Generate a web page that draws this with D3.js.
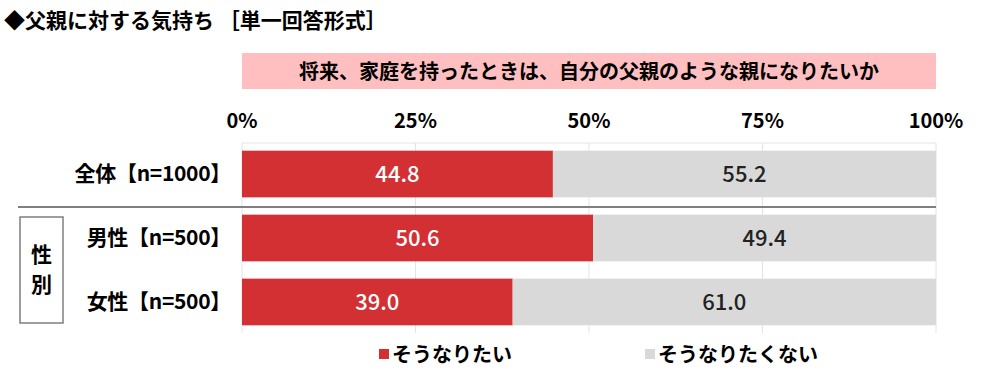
<!DOCTYPE html>
<html>
<head>
<meta charset="utf-8">
<script src="https://cdnjs.cloudflare.com/ajax/libs/d3/7.8.5/d3.min.js"></script>
<style>
  body { margin: 0; background: #fff; }
  svg { font-family: "Noto Sans CJK JP", "Noto Sans", sans-serif; }
</style>
</head>
<body>
<script>
const categories = ['全体【n=1000】', '男性【n=500】', '女性【n=500】'];
const yesValues = [44.8, 50.6, 39.0];
const noValues = [55.2, 49.4, 61.0];
const seriesNames = ['そうなりたい', 'そうなりたくない'];
const tickValues = [0, 25, 50, 75, 100];

const width = 1000, height = 375;
const red = '#d33034', grey = '#d9d9d9';

const svg = d3.select('body').append('svg')
  .attr('width', width).attr('height', height);

const x = d3.scaleLinear().domain([0, 100]).range([242, 936]);
const y = d3.scaleBand().domain(categories)
  .range([143, 333]).paddingInner(0.27).paddingOuter(0.12);

// title
svg.append('text')
  .attr('x', 4).attr('y', 28)
  .attr('font-size', 21).attr('font-weight', 'bold')
  .text('◆父親に対する気持ち ［単一回答形式］');

// question banner
svg.append('rect')
  .attr('x', x(0)).attr('y', 53)
  .attr('width', x(100) - x(0)).attr('height', 36)
  .attr('fill', '#ffbfc1');
svg.append('text')
  .attr('x', (x(0) + x(100)) / 2).attr('y', 79)
  .attr('text-anchor', 'middle')
  .attr('font-size', 20).attr('font-weight', 'bold')
  .text('将来、家庭を持ったときは、自分の父親のような親になりたいか');

// grid
svg.append('line')
  .attr('x1', x(0)).attr('x2', x(100)).attr('y1', 143).attr('y2', 143)
  .attr('stroke', '#e4e4e4');
svg.selectAll('.grid').data(tickValues).enter().append('line')
  .attr('x1', d => x(d)).attr('x2', d => x(d))
  .attr('y1', 143).attr('y2', 333)
  .attr('stroke', '#e4e4e4');

// tick labels
svg.selectAll('.tick').data(tickValues).enter().append('text')
  .attr('x', d => x(d)).attr('y', 128)
  .attr('text-anchor', 'middle')
  .attr('font-size', 20).attr('font-weight', 'bold')
  .text(d => d + '%');

// bars
const rows = categories.map((c, i) => ({ cat: c, yes: yesValues[i], no: noValues[i] }));

svg.selectAll('.yes').data(rows).enter().append('rect')
  .attr('x', x(0)).attr('y', d => y(d.cat))
  .attr('width', d => x(d.yes) - x(0)).attr('height', y.bandwidth())
  .attr('fill', red);
svg.selectAll('.no').data(rows).enter().append('rect')
  .attr('x', d => x(d.yes)).attr('y', d => y(d.cat))
  .attr('width', d => x(d.yes + d.no) - x(d.yes)).attr('height', y.bandwidth())
  .attr('fill', grey);

svg.selectAll('.yesLabel').data(rows).enter().append('text')
  .attr('x', d => (x(0) + x(d.yes)) / 2).attr('y', d => y(d.cat) + y.bandwidth() / 2 + 8)
  .attr('text-anchor', 'middle').attr('font-size', 22).attr('font-weight', 500).attr('fill', '#fff')
  .text(d => d.yes.toFixed(1));
svg.selectAll('.noLabel').data(rows).enter().append('text')
  .attr('x', d => (x(d.yes) + x(d.yes + d.no)) / 2).attr('y', d => y(d.cat) + y.bandwidth() / 2 + 8)
  .attr('text-anchor', 'middle').attr('font-size', 22).attr('font-weight', 500).attr('fill', '#222')
  .text(d => d.no.toFixed(1));

// category labels
svg.selectAll('.cat').data(categories).enter().append('text')
  .attr('x', 231).attr('y', d => y(d) + y.bandwidth() / 2 + 7)
  .attr('text-anchor', 'end')
  .attr('font-size', 21).attr('font-weight', 'bold')
  .attr('letter-spacing', -0.3)
  .text(d => d);

// separator
svg.append('line')
  .attr('x1', 18).attr('x2', x(100)).attr('y1', 207).attr('y2', 207)
  .attr('stroke', '#7f7f7f').attr('stroke-width', 2);

// group box
svg.append('rect')
  .attr('x', 20).attr('y', 217).attr('width', 43).attr('height', 106)
  .attr('fill', 'none').attr('stroke', '#7f7f7f').attr('stroke-width', 1.5);
svg.append('text')
  .attr('x', 41.5).attr('y', 262).attr('text-anchor', 'middle')
  .attr('font-size', 21).attr('font-weight', 'bold').text('性');
svg.append('text')
  .attr('x', 41.5).attr('y', 292).attr('text-anchor', 'middle')
  .attr('font-size', 21).attr('font-weight', 'bold').text('別');

// legend
const legendX = [379, 645];
const colors = [red, grey];
seriesNames.forEach((s, i) => {
  svg.append('rect')
    .attr('x', legendX[i]).attr('y', 349).attr('width', 10).attr('height', 10)
    .attr('fill', colors[i]);
  svg.append('text')
    .attr('x', legendX[i] + 13).attr('y', 362)
    .attr('font-size', 20).attr('font-weight', 'bold')
    .text(s);
});
</script>
</body>
</html>
